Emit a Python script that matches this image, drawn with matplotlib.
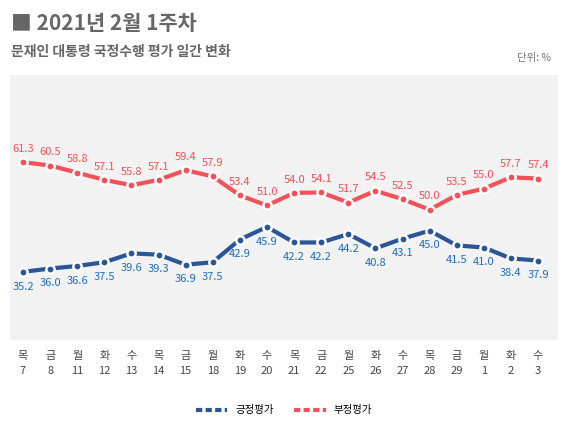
import matplotlib
matplotlib.use("Agg")
import matplotlib.pyplot as plt

plt.rcParams['font.family'] = ['Noto Sans CJK KR', 'DejaVu Sans']

DAYS = ["목", "금", "월", "화", "수", "목", "금", "월", "화", "수",
        "목", "금", "월", "화", "수", "목", "금", "월", "화", "수"]
DATES = ["7", "8", "11", "12", "13", "14", "15", "18", "19", "20",
         "21", "22", "25", "26", "27", "28", "29", "1", "2", "3"]
POSITIVE = [35.2, 36.0, 36.6, 37.5, 39.6, 39.3, 36.9, 37.5, 42.9, 45.9,
            42.2, 42.2, 44.2, 40.8, 43.1, 45.0, 41.5, 41.0, 38.4, 37.9]
NEGATIVE = [61.3, 60.5, 58.8, 57.1, 55.8, 57.1, 59.4, 57.9, 53.4, 51.0,
            54.0, 54.1, 51.7, 54.5, 52.5, 50.0, 53.5, 55.0, 57.7, 57.4]

BLUE = "#2a5597"
BLUE_TXT = "#1f6fc0"
RED = "#f65058"

fig = plt.figure(figsize=(5.68, 4.32), dpi=100)
ax = fig.add_axes([0.0176, 0.213, 0.965, 0.613])
ax.set_facecolor("#f2f2f2")
for s in ax.spines.values():
    s.set_visible(False)

xs = list(range(len(DATES)))
ax.plot(xs, POSITIVE, color=BLUE, lw=3, marker="o", ms=6,
        mfc=BLUE, mec="white", mew=1.8, label="긍정평가", zorder=3)
ax.plot(xs, NEGATIVE, color=RED, lw=3, marker="o", ms=6,
        mfc=RED, mec="white", mew=1.8, label="부정평가", zorder=3)
for x, p, n in zip(xs, POSITIVE, NEGATIVE):
    ax.annotate(f"{p:.1f}", (x, p), xytext=(0, -7), textcoords="offset points",
                ha="center", va="top", fontsize=8, color=BLUE_TXT)
    ax.annotate(f"{n:.1f}", (x, n), xytext=(0, 6), textcoords="offset points",
                ha="center", va="bottom", fontsize=8, color=RED)

ax.set_xlim(-0.48, 19.74)
ax.set_ylim(19, 82)
ax.set_yticks([])
ax.set_xticks(xs)
ax.set_xticklabels([f"{d}\n{t}" for d, t in zip(DAYS, DATES)],
                   fontsize=8, color="#444444", linespacing=1.6)
ax.tick_params(axis="x", length=0, pad=8)

fig.text(0.02, 0.945, "■ 2021년 2월 1주차", fontsize=15, fontweight="bold",
         color="#666666", va="center")
fig.text(0.02, 0.88, "문재인 대통령 국정수행 평가 일간 변화", fontsize=10,
         fontweight="bold", color="#666666", va="center")
fig.text(0.97, 0.865, "단위: %", fontsize=7.5, color="#777777", ha="right", va="center")

fig.legend(loc="center", bbox_to_anchor=(0.5, 0.05), ncol=2, frameon=False,
           fontsize=7.5, handlelength=3, columnspacing=2,
           handler_map=None)
leg = fig.legends[0]
for h in leg.legend_handles:
    h.set_marker("")
    h.set_linestyle((0, (1.5, 0.8)))

fig.savefig("out.png", dpi=100)
